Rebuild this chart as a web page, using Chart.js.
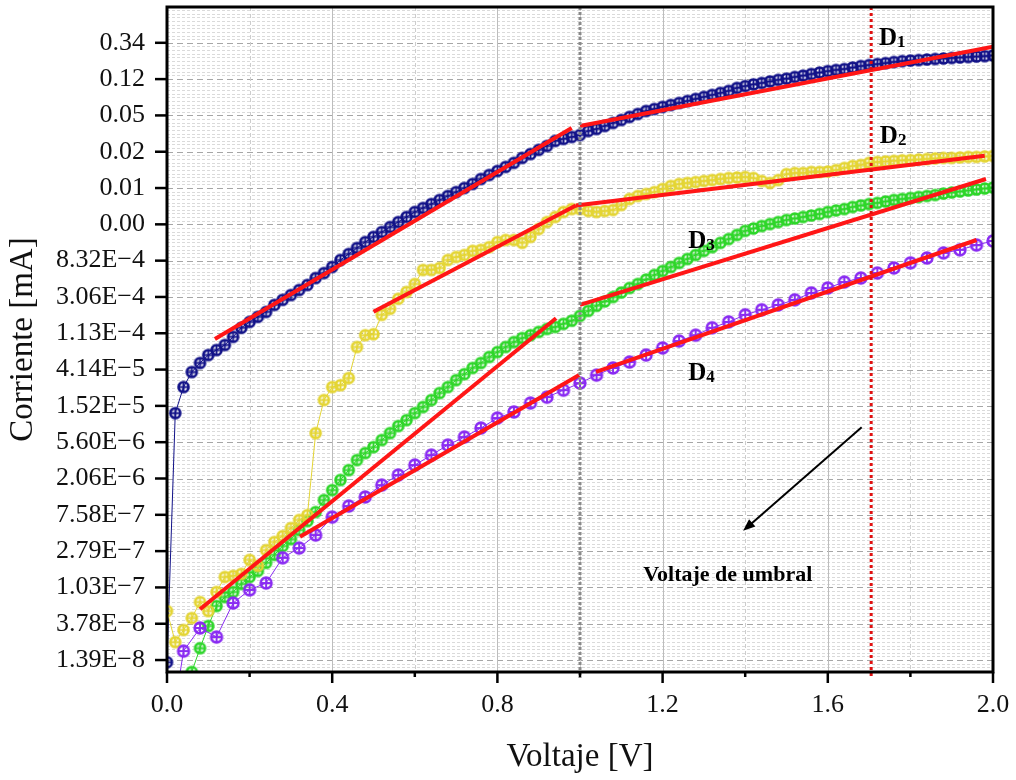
<!DOCTYPE html>
<html>
<head>
<meta charset="utf-8">
<title>Corriente vs Voltaje</title>
<script src="https://cdn.jsdelivr.net/npm/chart.js@4.4.1/dist/chart.umd.min.js"></script>
<style>
  html, body { margin: 0; padding: 0; background: #fff; }
  canvas { display: block; }
</style>
</head>
<body>
<canvas id="ivChart" width="1016" height="780"></canvas>
<script>
// Voltage sweep (V) for D1, D2, D3
const voltage = [
  0.00, 0.02, 0.04, 0.06, 0.08, 0.10, 0.12, 0.14, 0.16, 0.18,
  0.20, 0.22, 0.24, 0.26, 0.28, 0.30, 0.32, 0.34, 0.36, 0.38,
  0.40, 0.42, 0.44, 0.46, 0.48, 0.50, 0.52, 0.54, 0.56, 0.58,
  0.60, 0.62, 0.64, 0.66, 0.68, 0.70, 0.72, 0.74, 0.76, 0.78,
  0.80, 0.82, 0.84, 0.86, 0.88, 0.90, 0.92, 0.94, 0.96, 0.98,
  1.00, 1.02, 1.04, 1.06, 1.08, 1.10, 1.12, 1.14, 1.16, 1.18,
  1.20, 1.22, 1.24, 1.26, 1.28, 1.30, 1.32, 1.34, 1.36, 1.38,
  1.40, 1.42, 1.44, 1.46, 1.48, 1.50, 1.52, 1.54, 1.56, 1.58,
  1.60, 1.62, 1.64, 1.66, 1.68, 1.70, 1.72, 1.74, 1.76, 1.78,
  1.80, 1.82, 1.84, 1.86, 1.88, 1.90, 1.92, 1.94, 1.96, 1.98,
  2.00
];
// D4 was measured with a coarser step
const voltageD4 = [
  0.00, 0.04, 0.08, 0.12, 0.16, 0.20, 0.24, 0.28, 0.32, 0.36,
  0.40, 0.44, 0.48, 0.52, 0.56, 0.60, 0.64, 0.68, 0.72, 0.76,
  0.80, 0.84, 0.88, 0.92, 0.96, 1.00, 1.04, 1.08, 1.12, 1.16,
  1.20, 1.24, 1.28, 1.32, 1.36, 1.40, 1.44, 1.48, 1.52, 1.56,
  1.60, 1.64, 1.68, 1.72, 1.76, 1.80, 1.84, 1.88, 1.92, 1.96,
  2.00
];

// Current (mA)
const currentD1 = [
  1.31e-8, 1.25e-5, 2.56e-5, 3.87e-5, 4.97e-5, 6.19e-5, 7.10e-5, 8.16e-5, 1.02e-4, 1.31e-4,
  1.54e-4, 1.77e-4, 2.03e-4, 2.46e-4, 2.83e-4, 3.23e-4, 3.71e-4, 4.26e-4, 5.16e-4, 5.92e-4,
  6.99e-4, 8.48e-4, 1.00e-3, 1.18e-3, 1.39e-3, 1.60e-3, 1.83e-3, 2.10e-3, 2.41e-3, 2.77e-3,
  3.18e-3, 3.55e-3, 3.96e-3, 4.43e-3, 4.94e-3, 5.51e-3, 6.16e-3, 6.88e-3, 7.89e-3, 8.81e-3,
  9.84e-3, 1.10e-2, 1.23e-2, 1.41e-2, 1.57e-2, 1.76e-2, 1.96e-2, 2.25e-2, 2.38e-2, 2.51e-2,
  2.65e-2, 2.96e-2, 3.13e-2, 3.40e-2, 3.69e-2, 4.01e-2, 4.36e-2, 4.73e-2, 5.14e-2, 5.43e-2,
  5.74e-2, 6.06e-2, 6.41e-2, 6.77e-2, 7.16e-2, 7.56e-2, 7.99e-2, 8.44e-2, 8.92e-2, 9.69e-2,
  0.102, 0.107, 0.111, 0.116, 0.121, 0.125, 0.131, 0.136, 0.142, 0.148,
  0.154, 0.159, 0.163, 0.170, 0.177, 0.182, 0.187, 0.192, 0.198, 0.203,
  0.206, 0.209, 0.212, 0.215, 0.218, 0.221, 0.224, 0.227, 0.230, 0.233,
  0.237
];
const currentD2 = [
  5.36e-8, 2.28e-8, 3.18e-8, 4.42e-8, 6.87e-8, 5.36e-8, 9.07e-8, 1.37e-7, 1.41e-7, 1.49e-7,
  2.19e-7, 1.86e-7, 2.87e-7, 3.59e-7, 4.23e-7, 5.27e-7, 6.58e-7, 7.53e-7, 7.21e-6, 1.79e-5,
  2.56e-5, 2.70e-5, 3.28e-5, 7.72e-5, 1.07e-4, 1.10e-4, 1.87e-4, 2.21e-4, 2.91e-4, 3.51e-4,
  4.38e-4, 6.44e-4, 6.44e-4, 6.80e-4, 8.48e-4, 9.21e-4, 9.73e-4, 1.09e-3, 1.12e-3, 1.21e-3,
  1.39e-3, 1.47e-3, 1.47e-3, 1.36e-3, 1.60e-3, 1.99e-3, 2.41e-3, 2.77e-3, 3.18e-3, 3.45e-3,
  3.45e-3, 3.27e-3, 3.18e-3, 3.27e-3, 3.36e-3, 3.86e-3, 4.55e-3, 4.94e-3, 5.22e-3, 5.51e-3,
  5.99e-3, 6.51e-3, 6.88e-3, 7.07e-3, 7.26e-3, 7.47e-3, 7.67e-3, 7.89e-3, 8.11e-3, 8.22e-3,
  8.34e-3, 8.11e-3, 7.47e-3, 7.07e-3, 7.67e-3, 9.05e-3, 9.31e-3, 9.31e-3, 9.57e-3, 9.57e-3,
  9.70e-3, 1.01e-2, 1.07e-2, 1.13e-2, 1.16e-2, 1.23e-2, 1.26e-2, 1.28e-2, 1.30e-2, 1.32e-2,
  1.33e-2, 1.35e-2, 1.37e-2, 1.39e-2, 1.41e-2, 1.41e-2, 1.43e-2, 1.45e-2, 1.45e-2, 1.47e-2,
  1.49e-2
];
const currentD3 = [
  null, null, null, 1.0e-8, 1.93e-8, 3.55e-8, 6.16e-8, 7.89e-8, 9.07e-8, 1.13e-7,
  1.37e-7, 1.62e-7, 2.02e-7, 2.52e-7, 3.21e-7, 3.89e-7, 4.99e-7, 6.39e-7, 8.19e-7, 1.14e-6,
  1.50e-6, 1.98e-6, 2.60e-6, 3.43e-6, 4.16e-6, 4.90e-6, 5.95e-6, 7.21e-6, 8.75e-6, 1.03e-5,
  1.25e-5, 1.48e-5, 1.79e-5, 2.17e-5, 2.56e-5, 3.10e-5, 3.66e-5, 4.33e-5, 4.97e-5, 5.86e-5,
  6.72e-5, 7.72e-5, 8.85e-5, 9.88e-5, 1.07e-4, 1.17e-4, 1.27e-4, 1.34e-4, 1.46e-4, 1.59e-4,
  1.82e-4, 2.09e-4, 2.40e-4, 2.71e-4, 3.06e-4, 3.46e-4, 3.92e-4, 4.38e-4, 4.95e-4, 5.61e-4,
  6.26e-4, 6.99e-4, 7.82e-4, 8.72e-4, 9.73e-4, 1.09e-3, 1.21e-3, 1.36e-3, 1.51e-3, 1.69e-3,
  1.89e-3, 2.02e-3, 2.16e-3, 2.28e-3, 2.41e-3, 2.55e-3, 2.66e-3, 2.77e-3, 2.89e-3, 3.01e-3,
  3.18e-3, 3.32e-3, 3.45e-3, 3.65e-3, 3.81e-3, 3.96e-3, 4.08e-3, 4.25e-3, 4.43e-3, 4.55e-3,
  4.68e-3, 4.81e-3, 4.94e-3, 5.08e-3, 5.29e-3, 5.44e-3, 5.59e-3, 5.75e-3, 5.91e-3, 6.08e-3,
  6.24e-3
];
const currentD4 = [
  1.0e-9, 1.78e-8, 3.36e-8, 2.62e-8, 6.68e-8, 9.59e-8, 1.16e-7, 2.32e-7, 3.04e-7, 4.35e-7,
  7.13e-7, 9.66e-7, 1.24e-6, 1.72e-6, 2.27e-6, 2.99e-6, 3.93e-6, 5.18e-6, 6.46e-6, 8.28e-6,
  1.09e-5, 1.29e-5, 1.65e-5, 1.94e-5, 2.35e-5, 2.86e-5, 3.56e-5, 4.33e-5, 5.10e-5, 6.19e-5,
  7.51e-5, 9.10e-5, 1.07e-4, 1.31e-4, 1.54e-4, 1.87e-4, 2.15e-4, 2.46e-4, 2.83e-4, 3.42e-4,
  3.92e-4, 4.62e-4, 5.16e-4, 5.92e-4, 6.80e-4, 7.82e-4, 8.96e-4, 1.03e-3, 1.12e-3, 1.28e-3,
  1.43e-3
];

// Linear fits (two regions per diode): start/end voltage and current
const fitVoltage = [
  [0.116, 0.98], [1.0, 2.0],      // D1
  [0.50, 0.99], [0.99, 1.98],     // D2
  [0.08, 0.942], [1.0, 1.983],    // D3
  [0.322, 0.998], [1.039, 1.96]   // D4
];
const fitCurrent = [
  [9.62e-5, 3.22e-2], [3.40e-2, 0.301],
  [2.04e-4, 3.81e-3], [3.81e-3, 1.50e-2],
  [5.62e-8, 1.70e-4], [2.46e-4, 7.89e-3],
  [4.15e-7, 3.57e-5], [3.90e-5, 1.47e-3]
];

// Y axis ticks are one e-fold apart
const yTickBase = 1.39e-8;
const yTickLabels = [
  '1.39E\u22128', '3.78E\u22128', '1.03E\u22127', '2.79E\u22127', '7.58E\u22127', '2.06E\u22126',
  '5.60E\u22126', '1.52E\u22125', '4.14E\u22125', '1.13E\u22124', '3.06E\u22124', '8.32E\u22124',
  '0.00', '0.01', '0.02', '0.05', '0.12', '0.34'
];
const yTickValues = yTickLabels.map((_, k) => yTickBase * Math.exp(k));

const SERIF = "'Liberation Serif', 'Times New Roman', serif";

// circle-with-plus marker
function ringPlus(color, r, lw) {
  const size = Math.ceil(2 * r + lw + 2);
  const c = document.createElement('canvas');
  c.width = c.height = size;
  const g = c.getContext('2d');
  const m = size / 2;
  g.strokeStyle = color;
  g.lineWidth = lw;
  g.beginPath();
  g.arc(m, m, r, 0, Math.PI * 2);
  g.stroke();
  g.lineWidth = lw * 0.75;
  g.beginPath();
  g.moveTo(m - r, m); g.lineTo(m + r, m);
  g.moveTo(m, m - r); g.lineTo(m, m + r);
  g.stroke();
  return c;
}

function series(xs, ys, color, r, order) {
  return {
    data: xs.map((v, i) => ({ x: v, y: ys[i] })),
    showLine: true,
    borderColor: color,
    borderWidth: 1,
    pointStyle: ringPlus(color, r, 2.6),
    pointRadius: r,
    clip: 0,
    order: order
  };
}

const datasets = [
  series(voltage, currentD1, '#121288', 5, 5),
  series(voltage, currentD3, '#2ed62a', 5, 4),
  series(voltage, currentD2, '#e4d534', 5, 3),
  series(voltageD4, currentD4, '#8a2cf2', 5.4, 2)
];
fitVoltage.forEach((vs, i) => {
  datasets.push({
    data: vs.map((v, j) => ({ x: v, y: fitCurrent[i][j] })),
    showLine: true,
    borderColor: '#ff1616',
    borderWidth: 4,
    pointRadius: 0,
    order: 1
  });
});

// annotations (positions in data units)
const diodeLabels = [
  { sub: '1', v: 1.724, i: 0.317 },
  { sub: '2', v: 1.726, i: 2.13e-2 },
  { sub: '3', v: 1.262, i: 1.18e-3 },
  { sub: '4', v: 1.262, i: 3.10e-5 }
];
const refLines = [
  { v: 1.0, color: '#8a8a8a', dash: [3, 2], width: 3 },
  { v: 1.705, color: '#e01010', dash: [3, 3], width: 3 }
];
const thresholdNote = { text: 'Voltaje de umbral', v: 1.153, i: 1.21e-7 };
const arrowFrom = { v: 1.682, i: 8.44e-6 };
const arrowTo = { v: 1.395, i: 4.89e-7 };

function seg(ctx, x1, y1, x2, y2) {
  ctx.beginPath();
  ctx.moveTo(x1, y1);
  ctx.lineTo(x2, y2);
  ctx.stroke();
}

function noEdgePadding(s) {
  s.paddingTop = 0;
  s.paddingBottom = 0;
  s.paddingLeft = 0;
  s.paddingRight = 0;
}

const originStyle = {
  id: 'originStyle',
  beforeDatasetsDraw(chart) {
    const { ctx, chartArea: a, scales: { x, y } } = chart;
    ctx.save();
    ctx.beginPath();
    ctx.rect(a.left, a.top, a.width, a.height);
    ctx.clip();
    ctx.lineWidth = 1;
    // minor horizontal grid
    ctx.strokeStyle = '#dadada';
    ctx.setLineDash([3, 2]);
    for (let k = -1; k <= yTickLabels.length; k++) {
      for (let j = 1; j < 10; j++) {
        const py = Math.round(y.getPixelForValue(yTickBase * Math.exp(k + j / 10))) + 0.5;
        seg(ctx, a.left, py, a.right, py);
      }
    }
    // major horizontal grid
    ctx.strokeStyle = '#a6a6a6';
    ctx.setLineDash([6, 4]);
    yTickValues.forEach(t => {
      const py = Math.round(y.getPixelForValue(t)) + 0.5;
      seg(ctx, a.left, py, a.right, py);
    });
    // vertical grid
    x.ticks.forEach((t, i) => {
      const px = Math.round(x.getPixelForValue(t.value)) + 0.5;
      if (i % 2 === 0) {
        ctx.strokeStyle = '#bdbdbd';
        ctx.setLineDash([]);
      } else {
        ctx.strokeStyle = '#cdcdcd';
        ctx.setLineDash([4, 3]);
      }
      seg(ctx, px, a.top, px, a.bottom);
    });
    ctx.restore();
  },
  afterDatasetsDraw(chart) {
    const { ctx, chartArea: a, scales: { x, y } } = chart;
    ctx.save();
    // reference voltages
    refLines.forEach(r => {
      const px = x.getPixelForValue(r.v);
      ctx.strokeStyle = r.color;
      ctx.lineWidth = r.width;
      ctx.setLineDash(r.dash);
      seg(ctx, px, a.top, px, a.bottom + 6);
    });
    ctx.setLineDash([]);

    // frame
    ctx.strokeStyle = '#000';
    ctx.lineWidth = 3;
    ctx.strokeRect(a.left, a.top, a.width, a.height);

    // tick marks
    ctx.lineWidth = 2.5;
    yTickValues.forEach(t => {
      const py = y.getPixelForValue(t);
      seg(ctx, a.left - 12, py, a.left, py);
    });
    x.ticks.forEach((t, i) => {
      const px = x.getPixelForValue(t.value);
      seg(ctx, px, a.bottom, px, a.bottom + (i % 2 === 0 ? 11 : 5));
    });

    // diode labels
    ctx.fillStyle = '#000';
    ctx.textBaseline = 'alphabetic';
    ctx.textAlign = 'left';
    diodeLabels.forEach(d => {
      const px = x.getPixelForValue(d.v);
      const py = y.getPixelForValue(d.i);
      ctx.font = 'bold 25px ' + SERIF;
      ctx.fillText('D', px, py);
      const w = ctx.measureText('D').width;
      ctx.font = 'bold 17px ' + SERIF;
      ctx.fillText(d.sub, px + w, py + 2);
    });

    // threshold note and arrow
    ctx.font = 'bold 22px ' + SERIF;
    ctx.fillText(thresholdNote.text, x.getPixelForValue(thresholdNote.v), y.getPixelForValue(thresholdNote.i));
    const x1 = x.getPixelForValue(arrowFrom.v), y1 = y.getPixelForValue(arrowFrom.i);
    const x2 = x.getPixelForValue(arrowTo.v), y2 = y.getPixelForValue(arrowTo.i);
    const ang = Math.atan2(y2 - y1, x2 - x1);
    const head = 13;
    ctx.lineWidth = 2;
    seg(ctx, x1, y1, x2 - Math.cos(ang) * head * 0.8, y2 - Math.sin(ang) * head * 0.8);
    ctx.beginPath();
    ctx.moveTo(x2, y2);
    ctx.lineTo(x2 - head * Math.cos(ang - 0.38), y2 - head * Math.sin(ang - 0.38));
    ctx.lineTo(x2 - head * Math.cos(ang + 0.38), y2 - head * Math.sin(ang + 0.38));
    ctx.closePath();
    ctx.fill();
    ctx.restore();
  }
};

new Chart(document.getElementById('ivChart'), {
  type: 'scatter',
  data: { datasets },
  options: {
    responsive: false,
    animation: false,
    events: [],
    layout: { padding: { top: 7, right: 23, left: 0, bottom: 0 } },
    plugins: { legend: { display: false }, tooltip: { enabled: false } },
    scales: {
      x: {
        type: 'linear',
        min: 0,
        max: 2,
        afterFit(s) { s.height = 108; noEdgePadding(s); },
        border: { display: false },
        grid: { drawOnChartArea: false, tickLength: 11, color: 'rgba(0,0,0,0)' },
        ticks: {
          stepSize: 0.2,
          autoSkip: false,
          maxRotation: 0,
          padding: 7,
          color: '#111',
          font: { family: SERIF, size: 26 },
          callback: (v, i) => (i % 2 === 0 ? Number(v).toFixed(1) : '')
        },
        title: {
          display: true,
          text: 'Voltaje [V]',
          color: '#111',
          font: { family: SERIF, size: 33 },
          padding: { top: 0, bottom: 3 }
        }
      },
      y: {
        type: 'logarithmic',
        min: 1e-8,
        max: 0.9,
        afterFit(s) { s.width = 167; noEdgePadding(s); },
        afterBuildTicks(s) { s.ticks = yTickValues.map(v => ({ value: v })); },
        border: { display: false },
        grid: { drawOnChartArea: false, tickLength: 12, color: 'rgba(0,0,0,0)' },
        ticks: {
          autoSkip: false,
          padding: 10,
          color: '#111',
          font: { family: SERIF, size: 26 },
          callback: (v, i) => yTickLabels[i]
        },
        title: {
          display: true,
          text: 'Corriente [mA]',
          color: '#111',
          font: { family: SERIF, size: 33 },
          padding: { top: 4, bottom: 0 }
        }
      }
    }
  },
  plugins: [originStyle]
});
</script>
</body>
</html>
